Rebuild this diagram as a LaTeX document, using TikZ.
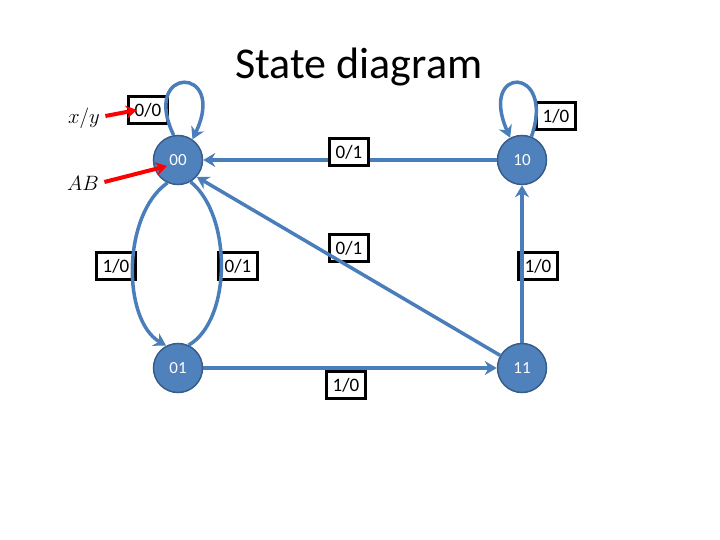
\documentclass[tikz,border=0pt]{standalone}
\usepackage{fontspec}
\setmainfont{Carlito}
\usetikzlibrary{arrows.meta}
\tikzset {>=Stealth}
\definecolor{stateblue}{RGB}{79,129,189}
\definecolor{stateedge}{RGB}{56,93,138}
\definecolor{lineblue}{RGB}{74,126,187}

\begin{document}
\begin{tikzpicture}[x=1pt,y=-1pt,
  state/.style={circle,fill=stateblue,draw=stateedge,line width=1.5pt,minimum size=49pt,inner sep=0pt,text=white,font=\fontsize{17}{20}\selectfont},
  lbl/.style={draw=black,line width=3pt,fill=white,minimum width=39pt,minimum height=27pt,inner sep=0pt,font=\fontsize{19}{22}\selectfont},
  edge/.style={draw=lineblue,line width=3.5pt,-{Stealth[length=12pt,width=14pt]}},
  hint/.style={draw=red,line width=4pt,-{Stealth[length=11pt,width=13pt]}}]
\useasboundingbox (0,0) rectangle (720,540);

\node (title) at (359,67) {\fontsize{44}{52}\selectfont State diagram};

% states
\node[state] (s00) at (178,160) {00};
\node[state] (s10) at (522,160) {10};
\node[state] (s01) at (178,368) {01};
\node[state] (s11) at (522,368) {11};

% output labels
\node[lbl] (l00) at (148,110) {0/0};
\node[lbl] (l10) at (556,116) {1/0};
\node[lbl] (lleft) at (116,266) {1/0};
\node[lbl] (lmid) at (238,266) {0/1};
\node[lbl] (ldiag) at (349,248) {0/1};
\node[lbl] (lright) at (538,266) {1/0};
\node[lbl] (lbot) at (346,385) {1/0};

% transitions
\draw[edge] (s00.100) .. controls (140,65) and (228,65) .. (s00.55);
\draw[edge] (s10.68) .. controls (556,65) and (478,65) .. (s10.118);
\draw[edge] (s10) -- (s00);
\draw[edge] (s11.150) -- (s00.-42);
\draw[edge] (s11) -- (s10);
\draw[edge] (s01) -- (s11);
\draw[edge] (s00.245) .. controls (122,215) and (122,320) .. (s01.118);
\draw[draw=lineblue,line width=3.5pt] (s01.65) .. controls (232,320) and (232,215) .. (s00.-60);

\node[lbl] (ltop) at (349,152) {0/1};

% legend
\node (xy) at (84,118) {\fontsize{20}{24}\selectfont $x/y$};
\node (ab) at (83,183) {\fontsize{20}{24}\selectfont $AB$};
\coordinate (xytip) at (137,110);
\coordinate (abtip) at (167,166);
\draw[hint] (xy.east) ++(2,-2) -- (xytip);
\draw[hint] (ab.east) ++(2,-1) -- (abtip);
\end{tikzpicture}
\end{document}
